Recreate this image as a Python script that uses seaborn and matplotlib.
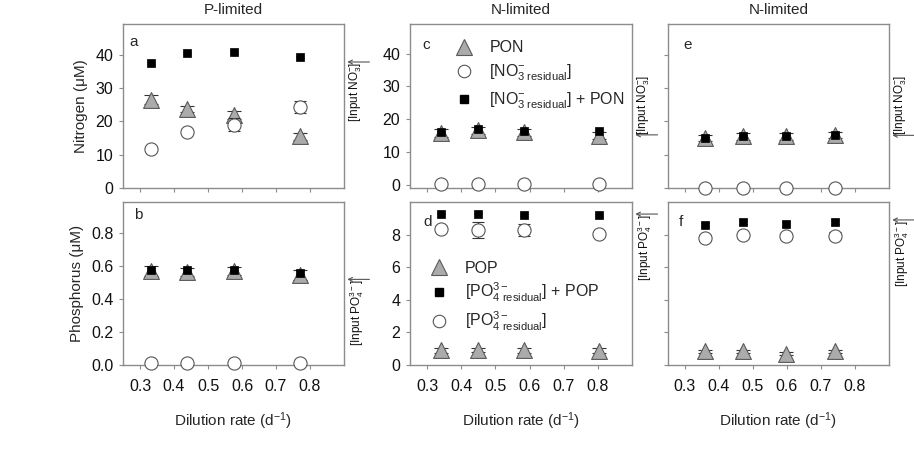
import matplotlib
matplotlib.use("Agg")
import matplotlib.pyplot as plt
from matplotlib.lines import Line2D
import seaborn as sns
import pandas as pd

sns.set_style("ticks")
plt.rcParams['font.family'] = ['Liberation Sans', 'DejaVu Sans']
plt.rcParams['mathtext.default'] = 'regular'
plt.rcParams['mathtext.fontset'] = 'custom'
plt.rcParams['mathtext.rm'] = 'Liberation Sans'
plt.rcParams['mathtext.it'] = 'Liberation Sans'

# ---------------- data ----------------
# Panel a (P-limited, nitrogen)
x_a = [0.332, 0.437, 0.576, 0.771]
pon_a = [26.5, 23.6, 21.9, 15.5]
pon_a_err = [1.3, 0.9, 1.2, 1.0]
no3_a = [11.7, 16.9, 19.0, 24.2]
no3_a_err = [0.5, 0.5, 2.0, 1.8]
sumn_a = [37.6, 40.4, 40.9, 39.2]
sumn_a_err = [0.3, 0.3, 0.3, 0.3]
input_no3_a = 37.8

# Panel b (P-limited, phosphorus)
pop_b = [0.57, 0.565, 0.57, 0.545]
pop_b_err = [0.03, 0.025, 0.025, 0.03]
po4_b = [0.01, 0.01, 0.01, 0.01]
po4_b_err = [0.005, 0.005, 0.005, 0.005]
sump_b = [0.58, 0.575, 0.58, 0.56]
sump_b_err = [0.01, 0.01, 0.01, 0.01]
input_po4_b = 0.52

# Panel c (N-limited, nitrogen)
x_c = [0.342, 0.449, 0.585, 0.804]
pon_c = [15.8, 16.6, 16.0, 15.0]
pon_c_err = [1.2, 1.0, 1.0, 1.2]
no3_c = [0.3, 0.3, 0.3, 0.3]
no3_c_err = [0.1, 0.1, 0.1, 0.1]
sumn_c = [16.2, 16.9, 16.3, 16.5]
sumn_c_err = [0.3, 0.3, 0.3, 0.3]
input_no3_c = 15.2

# Panel d (N-limited, phosphorus)
pop_d = [0.9, 0.92, 0.9, 0.88]
pop_d_err = [0.15, 0.1, 0.15, 0.15]
po4_d = [8.35, 8.3, 8.27, 8.05]
po4_d_err = [0.15, 0.5, 0.35, 0.1]
sump_d = [9.29, 9.29, 9.2, 9.22]
sump_d_err = [0.05, 0.05, 0.05, 0.05]
input_po4_d = 9.26

# Panel e (N-limited, nitrogen)
x_e = [0.36, 0.47, 0.597, 0.74]
pon_e = [15.0, 15.5, 15.5, 15.9]
pon_e_err = [1.0, 1.0, 1.0, 1.0]
no3_e = [0.0, 0.0, 0.0, 0.0]
no3_e_err = [0.1, 0.1, 0.1, 0.1]
sumn_e = [15.0, 15.5, 15.5, 15.8]
sumn_e_err = [0.3, 0.3, 0.3, 0.3]
input_no3_e = 15.8

# Panel f (N-limited, phosphorus)
pop_f = [0.85, 0.85, 0.7, 0.85]
pop_f_err = [0.1, 0.1, 0.1, 0.1]
po4_f = [7.8, 7.96, 7.9, 7.93]
po4_f_err = [0.2, 0.15, 0.2, 0.2]
sump_f = [8.6, 8.77, 8.65, 8.77]
sump_f_err = [0.1, 0.1, 0.1, 0.1]
input_po4_f = 8.9

x_ticks = [0.3, 0.4, 0.5, 0.6, 0.7, 0.8]
n_ticks = [0, 10, 20, 30, 40]
pb_ticks = [0.0, 0.2, 0.4, 0.6, 0.8]
pd_ticks = [0, 2, 4, 6, 8]

# ---------------- style ----------------
TRI_FACE = '#ababab'
TRI_EDGE = '#5a5a5a'
CIR_EDGE = '#555555'
SPINE = '#8c8c8c'
FS = 11
TFS = 11.5

fig = plt.figure(figsize=(9.14, 4.62), dpi=100)
W, H = 914, 462


def make_ax(l, r, t, b):
    return fig.add_axes([l / W, (H - b) / H, (r - l) / W, (b - t) / H])


ax_a = make_ax(123, 344, 24, 188)
ax_b = make_ax(123, 344, 202, 365)
ax_c = make_ax(410, 632, 24, 188)
ax_d = make_ax(410, 632, 202, 365)
ax_e = make_ax(668, 889, 24, 188)
ax_f = make_ax(668, 889, 202, 365)


def draw(ax, x, tri, tri_err, cir, cir_err, sq, sq_err):
    ax.errorbar(x, tri, yerr=tri_err, fmt='none', ecolor='#333333',
                elinewidth=0.8, capsize=5, capthick=0.8, zorder=2, clip_on=False)
    sns.scatterplot(x=x, y=tri, marker='^', s=130, color=TRI_FACE,
                    edgecolor=TRI_EDGE, linewidth=0.8, ax=ax, zorder=3, clip_on=False)
    ax.errorbar(x, cir, yerr=cir_err, fmt='none', ecolor='#333333',
                elinewidth=0.8, capsize=4, capthick=0.8, zorder=4, clip_on=False)
    sns.scatterplot(x=x, y=cir, marker='o', s=90, color='white',
                    edgecolor=CIR_EDGE, linewidth=0.8, ax=ax, zorder=5, clip_on=False)
    ax.errorbar(x, sq, yerr=sq_err, fmt='none', ecolor='#333333',
                elinewidth=0.8, capsize=3, capthick=0.8, zorder=6, clip_on=False)
    sns.scatterplot(x=x, y=sq, marker='s', s=40, color='black',
                    edgecolor='black', linewidth=0.5, ax=ax, zorder=7, clip_on=False)


draw(ax_a, x_a, pon_a, pon_a_err, no3_a, no3_a_err, sumn_a, sumn_a_err)
draw(ax_b, x_a, pop_b, pop_b_err, po4_b, po4_b_err, sump_b, sump_b_err)
draw(ax_c, x_c, pon_c, pon_c_err, no3_c, no3_c_err, sumn_c, sumn_c_err)
draw(ax_d, x_c, pop_d, pop_d_err, po4_d, po4_d_err, sump_d, sump_d_err)
draw(ax_e, x_e, pon_e, pon_e_err, no3_e, no3_e_err, sumn_e, sumn_e_err)
draw(ax_f, x_e, pop_f, pop_f_err, po4_f, po4_f_err, sump_f, sump_f_err)

for ax in [ax_a, ax_b, ax_c, ax_d, ax_e, ax_f]:
    ax.set_xlim(0.25, 0.9)
    ax.set_xticks(x_ticks)
    ax.set_xlabel('')
    ax.set_ylabel('')
    for s in ax.spines.values():
        s.set_color(SPINE)
        s.set_linewidth(1.0)
    ax.tick_params(direction='out', length=3, width=0.8, color=SPINE,
                   labelsize=TFS, labelcolor='#111111')
    ax.tick_params(axis='x', pad=7)
    ax.tick_params(axis='y', pad=4)

ax_a.set_ylim(0, 49.2)
ax_c.set_ylim(-1, 49)
ax_e.set_ylim(0, 49.2)
for ax in [ax_a, ax_c, ax_e]:
    ax.set_yticks(n_ticks)
    ax.tick_params(labelbottom=False)
ax_b.set_ylim(0, 0.99)
ax_b.set_yticks(pb_ticks)
ax_b.set_yticklabels(['%.1f' % v for v in pb_ticks])
ax_d.set_ylim(0, 10)
ax_f.set_ylim(0, 10)
ax_d.set_yticks(pd_ticks)
ax_f.set_yticks(pd_ticks)
ax_e.tick_params(labelleft=False)
ax_f.tick_params(labelleft=False)
for ax in [ax_b, ax_d, ax_f]:
    ax.set_xticklabels(['%.1f' % v for v in x_ticks])

# Titles & labels
ax_a.set_title('P-limited', fontsize=FS, pad=7)
ax_c.set_title('N-limited', fontsize=FS, pad=7)
ax_e.set_title('N-limited', fontsize=FS, pad=7)
ax_a.set_ylabel('Nitrogen (\u03bcM)', fontsize=FS, labelpad=5)
ax_b.set_ylabel('Phosphorus (\u03bcM)', fontsize=FS, labelpad=5)
for ax in [ax_b, ax_d, ax_f]:
    ax.set_xlabel('Dilution rate (d$^{-1}$)', fontsize=FS, labelpad=12)

# Panel letters
for ax, letter, (lx, ly) in [(ax_a, 'a', (0.03, 0.89)), (ax_b, 'b', (0.05, 0.92)),
                              (ax_c, 'c', (0.054, 0.87)), (ax_d, 'd', (0.06, 0.88)),
                              (ax_e, 'e', (0.068, 0.87)), (ax_f, 'f', (0.05, 0.88))]:
    ax.text(lx, ly, letter, transform=ax.transAxes, fontsize=FS, ha='left', va='center')

# Input arrows
def input_arrow(ax, yval, label, text_above):
    tr = ax.get_yaxis_transform()
    ax.annotate('', xy=(1.015, yval), xytext=(1.115, yval), xycoords=tr, textcoords=tr,
                arrowprops=dict(arrowstyle='->', color='#555555', lw=0.8,
                                shrinkA=0, shrinkB=0, mutation_scale=7),
                annotation_clip=False)
    ax.text(1.055, yval, label, transform=tr, rotation=90, ha='center',
            va='bottom' if text_above else 'top', fontsize=8.5, color='#111111')

no3_lab = '[Input NO$_3^{-}$]'
po4_lab = '[Input PO$_4^{3-}$]'
input_arrow(ax_a, input_no3_a, no3_lab, False)
input_arrow(ax_b, input_po4_b, po4_lab, False)
input_arrow(ax_c, input_no3_c, no3_lab, True)
input_arrow(ax_d, input_po4_d, po4_lab, False)
input_arrow(ax_e, input_no3_e, no3_lab, True)
input_arrow(ax_f, input_po4_f, po4_lab, False)

# Legends
tri_h = Line2D([], [], ls='none', marker='^', ms=11, mfc=TRI_FACE, mec=TRI_EDGE, mew=0.8)
cir_h = Line2D([], [], ls='none', marker='o', ms=9, mfc='white', mec=CIR_EDGE, mew=0.8)
sq_h = Line2D([], [], ls='none', marker='s', ms=6, mfc='black', mec='black')

leg_c = ax_c.legend([tri_h, cir_h, sq_h],
                    ['PON', '[NO$_{3\\ residual}^{-}$]', '[NO$_{3\\ residual}^{-}$] + PON'],
                    loc='upper left', bbox_to_anchor=(0.17, 0.94), frameon=False,
                    fontsize=TFS, handletextpad=1.0, labelspacing=0.45, borderaxespad=0,
                    handlelength=1.2)
leg_d = ax_d.legend([tri_h, sq_h, cir_h],
                    ['POP', '[PO$_{4\\ residual}^{3-}$] + POP', '[PO$_{4\\ residual}^{3-}$]'],
                    loc='upper left', bbox_to_anchor=(0.06, 0.68), frameon=False,
                    fontsize=TFS, handletextpad=1.0, labelspacing=0.35, borderaxespad=0,
                    handlelength=1.2)

fig.savefig('out.png', dpi=100)
